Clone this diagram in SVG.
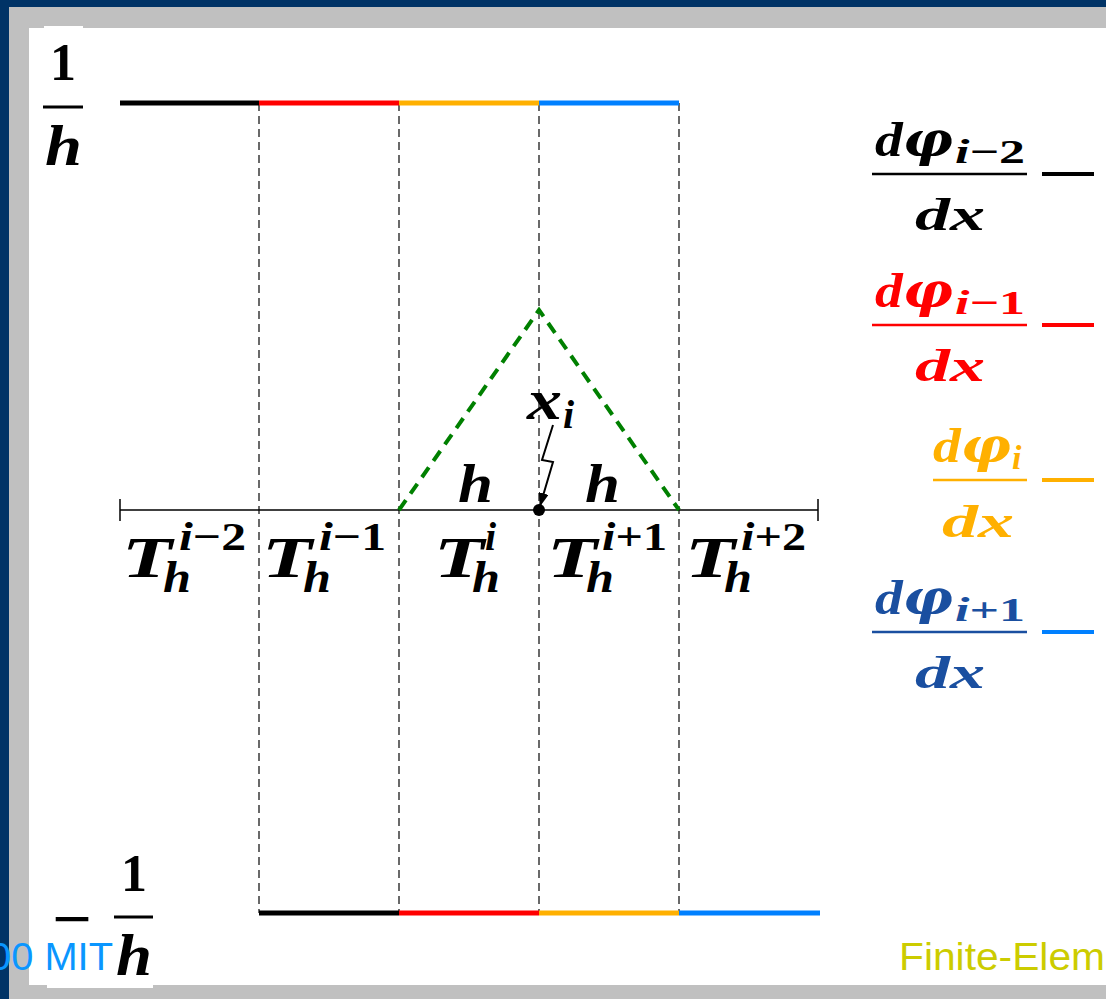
<svg xmlns="http://www.w3.org/2000/svg" width="1106" height="999" viewBox="0 0 1106 999">
<defs>
<style>
.m{font-family:"Liberation Serif","DejaVu Serif",serif;font-weight:bold;font-style:italic;}
.up{font-style:normal;}
.g{font-family:"DejaVu Serif","Liberation Serif",serif;}
.dash{stroke:#1a1a1a;stroke-width:1.3;stroke-dasharray:8 5;fill:none;}
.seg{stroke-width:5;fill:none;}
.k{stroke:#000000;}
.r{stroke:#ff0000;}
.o{stroke:#ffb000;}
.b{stroke:#0080ff;}
.bar{stroke-width:2.5;}
.leg{stroke-width:4;}
.sans{font-family:"Liberation Sans",Arial,sans-serif;}
</style>
<marker id="ah" viewBox="0 0 14 10" refX="13" refY="5" markerWidth="14" markerHeight="10" markerUnits="userSpaceOnUse" orient="auto">
<path d="M0,0 L14,5 L0,10 z" fill="#000"/>
</marker>
</defs>

<g id="frame">
<rect x="0" y="0" width="1106" height="999" fill="#003366"/>
<rect x="9" y="7" width="1097" height="992" fill="#c0c0c0"/>
<rect x="29" y="28" width="1077" height="957" fill="#ffffff"/>
<rect x="44" y="26" width="39" height="10" fill="#ffffff"/>
<rect x="47" y="975" width="106" height="13" fill="#ffffff"/>
</g>

<g id="grid">
<line class="dash" x1="259" y1="103" x2="259" y2="913"/>
<line class="dash" x1="399" y1="103" x2="399" y2="913"/>
<line class="dash" x1="539" y1="103" x2="539" y2="913"/>
<line class="dash" x1="679" y1="103" x2="679" y2="913"/>
</g>

<g id="top-derivatives">
<line class="seg k" x1="120" y1="103" x2="259" y2="103"/>
<line class="seg r" x1="259" y1="103" x2="399" y2="103"/>
<line class="seg o" x1="399" y1="103" x2="539" y2="103"/>
<line class="seg b" x1="539" y1="103" x2="679" y2="103"/>
</g>

<g id="bottom-derivatives">
<line class="seg k" x1="259" y1="913" x2="399" y2="913"/>
<line class="seg r" x1="399" y1="913" x2="539" y2="913"/>
<line class="seg o" x1="539" y1="913" x2="679" y2="913"/>
<line class="seg b" x1="679" y1="913" x2="820" y2="913"/>
</g>

<g id="axis">
<line x1="120" y1="510" x2="818" y2="510" stroke="#000" stroke-width="1.5"/>
<line x1="120" y1="499" x2="120" y2="521" stroke="#000" stroke-width="1.5"/>
<line x1="818" y1="499" x2="818" y2="521" stroke="#000" stroke-width="1.5"/>
<circle cx="539" cy="510" r="6" fill="#000"/>
</g>

<g id="hat-function">
<polyline points="399,510 539,310 679,510" fill="none" stroke="#008000" stroke-width="4" stroke-dasharray="12 8"/>
</g>

<g id="connectors">
<path d="M553,425 L542,460 L553,462 L540,506" fill="none" stroke="#000" stroke-width="2" marker-end="url(#ah)"/>
</g>

<g id="y-label-top">
<text class="m up" x="63" y="80" font-size="52" text-anchor="middle">1</text>
<line x1="43" y1="107" x2="83" y2="107" stroke="#000" stroke-width="3"/>
<text class="m" x="45" y="165" font-size="57" textLength="37" lengthAdjust="spacingAndGlyphs">h</text>
</g>

<g id="y-label-bottom">
<text class="m up" x="52" y="939" font-size="60" textLength="40" lengthAdjust="spacingAndGlyphs">−</text>
<text class="m up" x="134" y="891" font-size="52" text-anchor="middle">1</text>
<line x1="114" y1="917" x2="153" y2="917" stroke="#000" stroke-width="3"/>
<text class="m" x="116" y="975" font-size="60" textLength="36" lengthAdjust="spacingAndGlyphs">h</text>
</g>

<g id="label-xi">
<text class="m" x="527" y="419" font-size="56" textLength="35" lengthAdjust="spacingAndGlyphs">x</text>
<text class="m" x="563" y="428" font-size="40">i</text>
</g>

<g id="label-h">
<text class="m" x="458" y="502" font-size="54" textLength="35" lengthAdjust="spacingAndGlyphs">h</text>
<text class="m" x="585" y="502" font-size="54" textLength="35" lengthAdjust="spacingAndGlyphs">h</text>
</g>

<g id="element-labels">
<g id="T-im2">
<text class="m" x="122" y="577" font-size="57" textLength="50" lengthAdjust="spacingAndGlyphs">T</text>
<text class="m" x="179" y="550" font-size="40" textLength="67" lengthAdjust="spacingAndGlyphs">i<tspan class="up">−2</tspan></text>
<text class="m" x="163" y="592" font-size="44" textLength="28" lengthAdjust="spacingAndGlyphs">h</text>
</g>
<g id="T-im1">
<text class="m" x="262" y="577" font-size="57" textLength="50" lengthAdjust="spacingAndGlyphs">T</text>
<text class="m" x="319" y="550" font-size="40" textLength="67" lengthAdjust="spacingAndGlyphs">i<tspan class="up">−1</tspan></text>
<text class="m" x="303" y="592" font-size="44" textLength="28" lengthAdjust="spacingAndGlyphs">h</text>
</g>
<g id="T-i">
<text class="m" x="434" y="577" font-size="57" textLength="50" lengthAdjust="spacingAndGlyphs">T</text>
<text class="m" x="485" y="550" font-size="40">i</text>
<text class="m" x="472" y="592" font-size="44" textLength="28" lengthAdjust="spacingAndGlyphs">h</text>
</g>
<g id="T-ip1">
<text class="m" x="547" y="577" font-size="57" textLength="50" lengthAdjust="spacingAndGlyphs">T</text>
<text class="m" x="602" y="550" font-size="40" textLength="65" lengthAdjust="spacingAndGlyphs">i<tspan class="up">+1</tspan></text>
<text class="m" x="586" y="592" font-size="44" textLength="28" lengthAdjust="spacingAndGlyphs">h</text>
</g>
<g id="T-ip2">
<text class="m" x="685" y="577" font-size="57" textLength="50" lengthAdjust="spacingAndGlyphs">T</text>
<text class="m" x="741" y="550" font-size="40" textLength="65" lengthAdjust="spacingAndGlyphs">i<tspan class="up">+2</tspan></text>
<text class="m" x="724" y="592" font-size="44" textLength="28" lengthAdjust="spacingAndGlyphs">h</text>
</g>
</g>

<g id="legend-im2" fill="#000">
<text class="m" x="875" y="156" font-size="48" textLength="78" lengthAdjust="spacingAndGlyphs">d<tspan class="g">φ</tspan></text>
<text class="m" x="955" y="163" font-size="34" textLength="70" lengthAdjust="spacingAndGlyphs">i<tspan class="up">−2</tspan></text>
<line class="k bar" x1="872" y1="174" x2="1027" y2="174"/>
<text class="m" x="915" y="230" font-size="46" textLength="70" lengthAdjust="spacingAndGlyphs">dx</text>
<line class="k leg" x1="1042" y1="174" x2="1094" y2="174"/>
</g>

<g id="legend-im1" fill="#ff0000">
<text class="m" x="875" y="307" font-size="48" textLength="78" lengthAdjust="spacingAndGlyphs">d<tspan class="g">φ</tspan></text>
<text class="m" x="955" y="314" font-size="34" textLength="70" lengthAdjust="spacingAndGlyphs">i<tspan class="up">−1</tspan></text>
<line class="r bar" x1="872" y1="325" x2="1027" y2="325"/>
<text class="m" x="915" y="381" font-size="46" textLength="70" lengthAdjust="spacingAndGlyphs">dx</text>
<line class="r leg" x1="1042" y1="325" x2="1094" y2="325"/>
</g>

<g id="legend-i" fill="#ffb000">
<text class="m" x="933" y="462" font-size="48" textLength="78" lengthAdjust="spacingAndGlyphs">d<tspan class="g">φ</tspan></text>
<text class="m" x="1012" y="469" font-size="34">i</text>
<line class="o bar" x1="933" y1="480" x2="1027" y2="480"/>
<text class="m" x="942" y="537" font-size="46" textLength="72" lengthAdjust="spacingAndGlyphs">dx</text>
<line class="o leg" x1="1042" y1="480" x2="1094" y2="480"/>
</g>

<g id="legend-ip1" fill="#1a4fa0">
<text class="m" x="875" y="614" font-size="48" textLength="78" lengthAdjust="spacingAndGlyphs">d<tspan class="g">φ</tspan></text>
<text class="m" x="955" y="621" font-size="34" textLength="70" lengthAdjust="spacingAndGlyphs">i<tspan class="up">+1</tspan></text>
<line x1="872" y1="632" x2="1027" y2="632" stroke="#1a4fa0" stroke-width="2.5"/>
<text class="m" x="915" y="688" font-size="46" textLength="70" lengthAdjust="spacingAndGlyphs">dx</text>
<line class="b leg" x1="1042" y1="632" x2="1094" y2="632"/>
</g>

<g id="footer">
<text class="sans" x="-11" y="970" font-size="39" fill="#0a96ff" textLength="124" lengthAdjust="spacingAndGlyphs">00 MIT</text>
<text class="sans" x="899" y="970" font-size="38" fill="#cccc00" textLength="206" lengthAdjust="spacingAndGlyphs">Finite-Elem</text>
</g>
</svg>
